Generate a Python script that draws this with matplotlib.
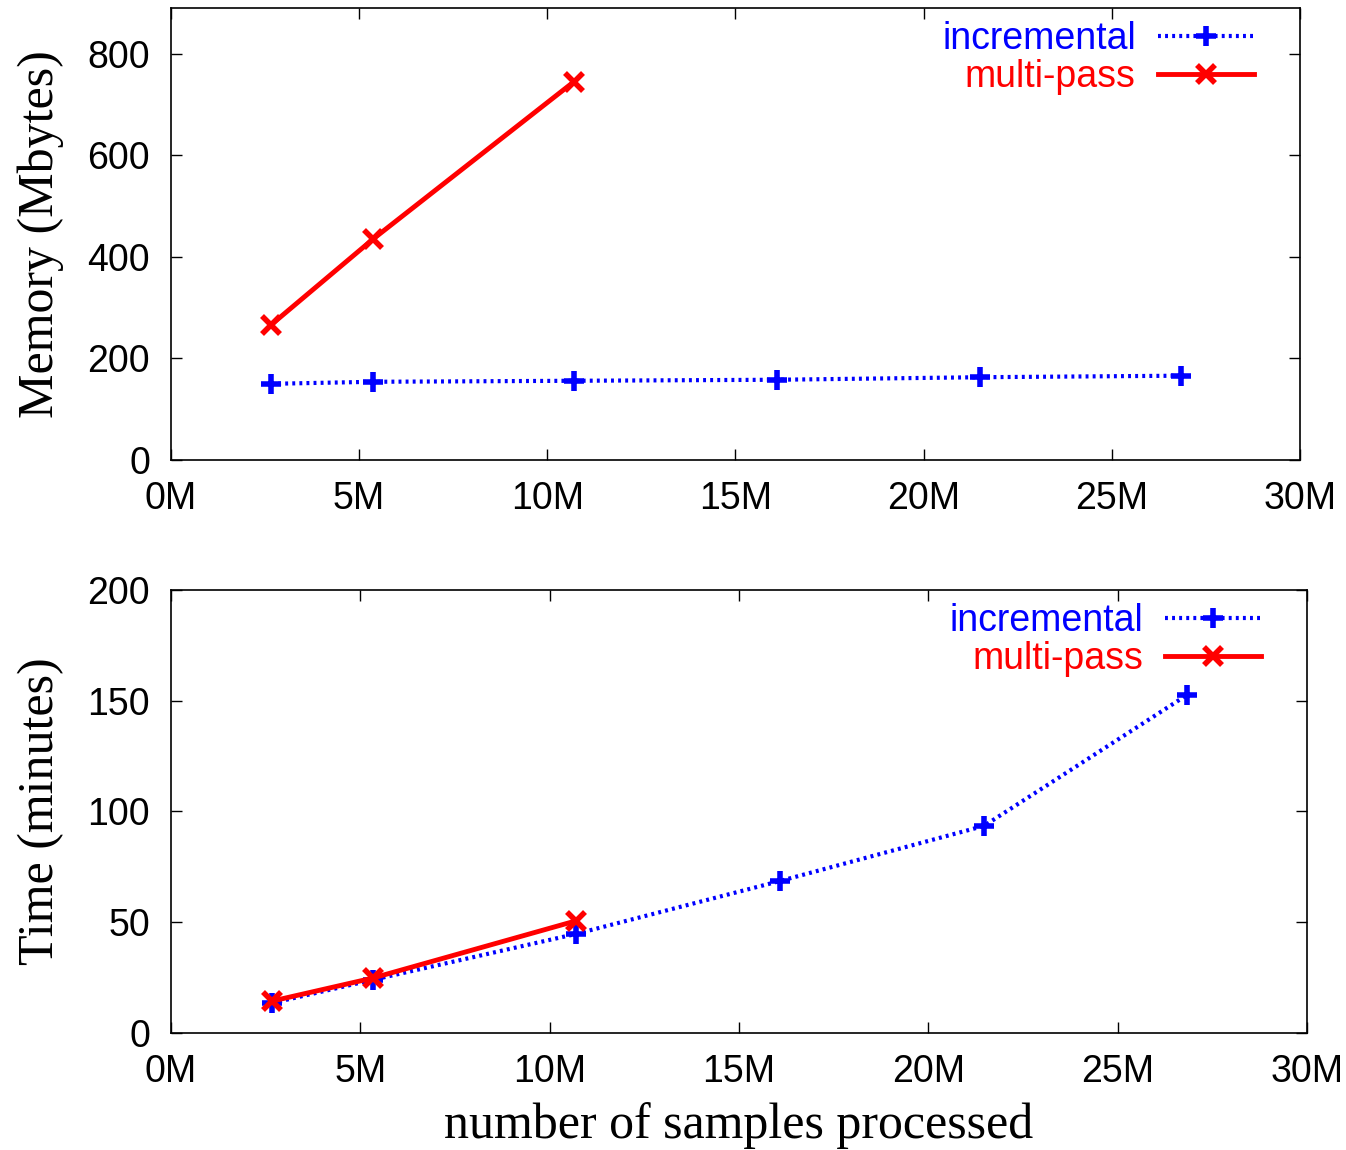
import matplotlib
matplotlib.use("Agg")
import matplotlib.pyplot as plt
from matplotlib.ticker import FuncFormatter

# Data (x in millions of samples)
mem_inc_x = [2.66, 5.37, 10.71, 16.1, 21.5, 26.84]
mem_inc_y = [150, 154, 156, 158, 163, 166]
mem_mp_x = [2.66, 5.37, 10.71]
mem_mp_y = [266, 435, 745]

time_inc_x = [2.67, 5.33, 10.69, 16.08, 21.47, 26.83]
time_inc_y = [13.5, 24, 44.7, 68.6, 93.5, 152.6]
time_mp_x = [2.67, 5.33, 10.69]
time_mp_y = [14.4, 24.8, 50.6]

xticks = [0, 5, 10, 15, 20, 25, 30]
mem_yticks = [0, 200, 400, 600, 800]
time_yticks = [0, 50, 100, 150, 200]

sans = ['Liberation Sans', 'DejaVu Sans']
serif = ['Liberation Serif', 'DejaVu Serif']
plt.rcParams['font.family'] = sans

fig = plt.figure(figsize=(13.46, 11.5), dpi=100)
ax1 = fig.add_axes([0.1270, 0.6, 0.9658 - 0.1270, 0.99304 - 0.6])
ax2 = fig.add_axes([0.1270, 0.10174, 0.97103 - 0.1270, 0.48696 - 0.10174])

dot = (0, (0.7, 1.0))
blue = '#0000ff'
red = '#ff0000'

def style(ax, yticks, ylim, ylabel):
    ax.set_xlim(0, 30)
    ax.set_ylim(*ylim)
    ax.set_xticks(xticks)
    ax.set_yticks(yticks)
    ax.xaxis.set_major_formatter(FuncFormatter(lambda v, p: f"{int(v)}M"))
    ax.tick_params(direction='in', length=8, width=1, top=True, right=True,
                   labelsize=27, pad=15)
    for s in ax.spines.values():
        s.set_linewidth(1.2)
    ax.set_ylabel(ylabel, fontsize=36, family=serif, labelpad=17)

ax1.plot(mem_inc_x, mem_inc_y, color=blue, lw=3, ls=dot, marker='+', ms=14, mew=4,
         label='incremental')
ax1.plot(mem_mp_x, mem_mp_y, color=red, lw=3.5, ls='-', marker='x', ms=13, mew=4,
         label='multi-pass')
style(ax1, mem_yticks, (0, 890), 'Memory (Mbytes)')

ax2.plot(time_inc_x, time_inc_y, color=blue, lw=3, ls=dot, marker='+', ms=14, mew=4,
         label='incremental')
ax2.plot(time_mp_x, time_mp_y, color=red, lw=3.5, ls='-', marker='x', ms=13, mew=4,
         label='multi-pass')
style(ax2, time_yticks, (0, 200), 'Time (minutes)')
ax2.set_xlabel('number of samples processed', fontsize=36, family=serif, labelpad=9)

for ax in (ax1, ax2):
    w = ax.get_position().width * 1346
    h = ax.get_position().height * 1150
    leg = ax.legend(loc='upper right', frameon=False, markerfirst=False,
                    fontsize=27, handlelength=2.55, handletextpad=0.6,
                    labelspacing=0.05, borderaxespad=0.0, borderpad=0.0,
                    labelcolor='linecolor',
                    bbox_to_anchor=(1 - 46 / w, 1 - 13 / h))
    for t in leg.get_texts():
        t.set_ha('right')

fig.savefig('out.png', dpi=100)
